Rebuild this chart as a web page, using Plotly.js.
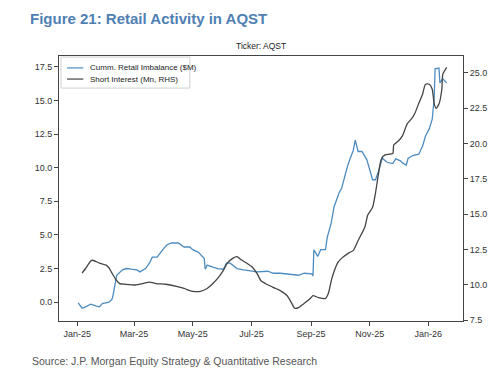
<!DOCTYPE html>
<html>
<head>
<meta charset="utf-8">
<script src="https://cdn.plot.ly/plotly-3.0.1.min.js"></script>
<style>html,body{margin:0;padding:0;background:#fff;}#chart{width:500px;height:381px;}</style>
</head>
<body>
<div id="chart"></div>
<script>
// Cumulative retail imbalance ($M), left axis
const retailDates = ["2025-01-02","2025-01-06","2025-01-08","2025-01-15","2025-01-21","2025-01-24","2025-01-27","2025-02-03","2025-02-06","2025-02-07","2025-02-10","2025-02-11","2025-02-17","2025-02-21","2025-02-26","2025-03-04","2025-03-07","2025-03-13","2025-03-17","2025-03-20","2025-03-25","2025-03-28","2025-04-01","2025-04-04","2025-04-09","2025-04-16","2025-04-22","2025-04-28","2025-05-01","2025-05-07","2025-05-12","2025-05-13","2025-05-14","2025-05-16","2025-05-22","2025-05-27","2025-06-02","2025-06-05","2025-06-09","2025-06-16","2025-06-23","2025-06-30","2025-07-07","2025-07-18","2025-07-24","2025-07-31","2025-08-07","2025-08-14","2025-08-19","2025-08-25","2025-09-02","2025-09-03","2025-09-04","2025-09-08","2025-09-11","2025-09-16","2025-09-18","2025-09-22","2025-09-25","2025-09-30","2025-10-03","2025-10-07","2025-10-10","2025-10-15","2025-10-17","2025-10-20","2025-10-24","2025-10-29","2025-11-04","2025-11-07","2025-11-10","2025-11-14","2025-11-19","2025-11-25","2025-11-28","2025-12-03","2025-12-05","2025-12-09","2025-12-11","2025-12-16","2025-12-22","2025-12-26","2025-12-29","2026-01-02","2026-01-05","2026-01-07","2026-01-08","2026-01-12","2026-01-13","2026-01-16","2026-01-20"];
const retailValues = [-0.05,-0.45,-0.4,-0.15,-0.3,-0.35,-0.1,0.0,0.2,0.45,1.6,2.0,2.4,2.5,2.45,2.4,2.25,2.5,2.9,3.35,3.35,3.65,4.0,4.25,4.4,4.4,4.1,4.1,3.9,3.7,3.35,3.25,2.45,2.75,2.6,2.5,2.45,2.9,2.9,2.5,2.4,2.3,2.25,2.3,2.15,2.15,2.1,2.0,2.0,2.15,2.1,1.95,3.9,3.4,3.9,3.9,4.85,5.9,7.1,8.1,8.5,9.6,10.35,11.3,12.05,11.2,11.2,10.6,9.1,9.1,9.7,10.7,10.4,10.3,10.65,10.5,10.35,10.2,10.7,10.9,11.0,11.6,12.35,12.9,13.6,15.1,17.35,17.4,16.3,16.6,16.3];

// Short interest (Mn), right axis
const shortDates = ["2025-01-06","2025-01-10","2025-01-15","2025-01-17","2025-01-24","2025-01-31","2025-02-03","2025-02-06","2025-02-10","2025-02-14","2025-02-20","2025-03-03","2025-03-10","2025-03-17","2025-03-24","2025-04-03","2025-04-14","2025-04-22","2025-04-28","2025-05-01","2025-05-09","2025-05-16","2025-05-22","2025-05-28","2025-06-02","2025-06-06","2025-06-12","2025-06-16","2025-06-20","2025-06-26","2025-07-02","2025-07-07","2025-07-11","2025-07-17","2025-07-23","2025-07-31","2025-08-07","2025-08-12","2025-08-15","2025-08-19","2025-08-25","2025-09-01","2025-09-03","2025-09-09","2025-09-16","2025-09-19","2025-09-23","2025-09-29","2025-10-03","2025-10-10","2025-10-15","2025-10-20","2025-10-27","2025-10-30","2025-11-04","2025-11-07","2025-11-10","2025-11-13","2025-11-17","2025-11-25","2025-11-26","2025-12-01","2025-12-05","2025-12-10","2025-12-15","2025-12-18","2025-12-22","2025-12-26","2025-12-29","2026-01-02","2026-01-05","2026-01-07","2026-01-09","2026-01-12","2026-01-15","2026-01-16","2026-01-20"];
const shortValues = [10.83,11.2,11.7,11.75,11.55,11.4,11.2,10.85,10.4,10.1,10.05,10.0,10.1,10.2,10.1,10.05,9.9,9.75,9.6,9.55,9.55,9.75,10.1,10.55,11.05,11.55,11.9,12.0,11.8,11.55,11.25,10.8,10.3,10.05,9.85,9.6,9.25,8.7,8.35,8.4,8.7,9.1,9.25,9.1,9.05,9.4,10.55,11.6,11.9,12.25,12.45,13.15,14.1,14.95,15.5,16.5,17.8,18.9,19.2,19.3,19.9,20.2,20.55,21.4,21.8,22.15,22.85,23.5,24.2,24.2,23.85,22.85,22.5,22.8,23.85,24.9,25.4];

const seriesNames = ["Cumm. Retail Imbalance ($M)", "Short Interest (Mn, RHS)"];
const seriesColors = ["#4d8cc0", "#444444"];
const xTickVals = ["2025-01-01","2025-03-01","2025-05-01","2025-07-01","2025-09-01","2025-11-01","2026-01-01"];
const xTickText = ["Jan-25","Mar-25","May-25","Jul-25","Sep-25","Nov-25","Jan-26"];
const leftTicks = [0,2.5,5,7.5,10,12.5,15,17.5];
const rightTicks = [7.5,10,12.5,15,17.5,20,22.5,25];

const font = "Liberation Sans, Arial, sans-serif";
const traces = [
  {x: retailDates, y: retailValues, name: seriesNames[0], type: "scatter", mode: "lines",
   line: {color: seriesColors[0], width: 1.3}, yaxis: "y"},
  {x: shortDates, y: shortValues, name: seriesNames[1], type: "scatter", mode: "lines",
   line: {color: seriesColors[1], width: 1.3, shape: "spline", smoothing: 0.6}, yaxis: "y2"}
];

const axisCommon = {showgrid: false, zeroline: false, showline: true, linecolor: "#444", linewidth: 1,
  ticks: "outside", ticklen: 4, tickcolor: "#444", tickfont: {family: font, size: 9, color: "#333"}};

// compact legend drawn as a framed box with line samples (paper coordinates)
const legBox = {x0: 0.005, x1: 0.324, y0: 0.879, y1: 0.996};
const legRows = [0.955, 0.913];
const legShapes = [{type: "rect", xref: "paper", yref: "paper", x0: legBox.x0, x1: legBox.x1, y0: legBox.y0, y1: legBox.y1,
  line: {color: "#d0d0d0", width: 1}, fillcolor: "rgba(255,255,255,0.9)", layer: "above"}];
const legAnn = [];
seriesNames.forEach((n, i) => {
  legShapes.push({type: "line", xref: "paper", yref: "paper", x0: 0.02, x1: 0.06, y0: legRows[i], y1: legRows[i],
    line: {color: seriesColors[i], width: 1.2}, layer: "above"});
  legAnn.push({text: n, xref: "paper", yref: "paper", x: 0.072, y: legRows[i], xanchor: "left", yanchor: "middle",
    showarrow: false, font: {family: font, size: 8, color: "#222"}});
});

const layout = {
  width: 500, height: 381,
  margin: {l: 59, r: 37, t: 56, b: 60},
  paper_bgcolor: "#fff", plot_bgcolor: "#fff",
  showlegend: false,
  title: {text: "<b>Figure 21: Retail Activity in AQST</b>", font: {family: font, size: 15, color: "#4f80b4"},
          x: 30/500, xanchor: "left", xref: "container", y: 1 - 19/381, yanchor: "middle", yref: "container"},
  xaxis: Object.assign({}, axisCommon, {type: "date", range: ["2024-12-13", "2026-02-06"],
          tickvals: xTickVals, ticktext: xTickText, mirror: true}),
  yaxis: Object.assign({}, axisCommon, {range: [-1.4, 18.3], tickvals: leftTicks, tickformat: ".1f", mirror: true}),
  yaxis2: Object.assign({}, axisCommon, {range: [7.45, 26.2], tickvals: rightTicks, tickformat: ".1f",
          overlaying: "y", side: "right"}),
  shapes: legShapes,
  annotations: [
    {text: "Ticker: AQST", xref: "paper", yref: "paper", x: 0.5, y: 1, yshift: 3, xanchor: "center", yanchor: "bottom",
     showarrow: false, font: {family: font, size: 8.5, color: "#222"}},
    {text: "Source: J.P. Morgan Equity Strategy & Quantitative Research", xref: "paper", yref: "paper",
     x: -29/404, y: 0, yshift: -40, xanchor: "left", yanchor: "middle", showarrow: false,
     font: {family: font, size: 10.5, color: "#555"}}
  ].concat(legAnn)
};

Plotly.newPlot("chart", traces, layout, {displayModeBar: false, staticPlot: true});
</script>
</body>
</html>
